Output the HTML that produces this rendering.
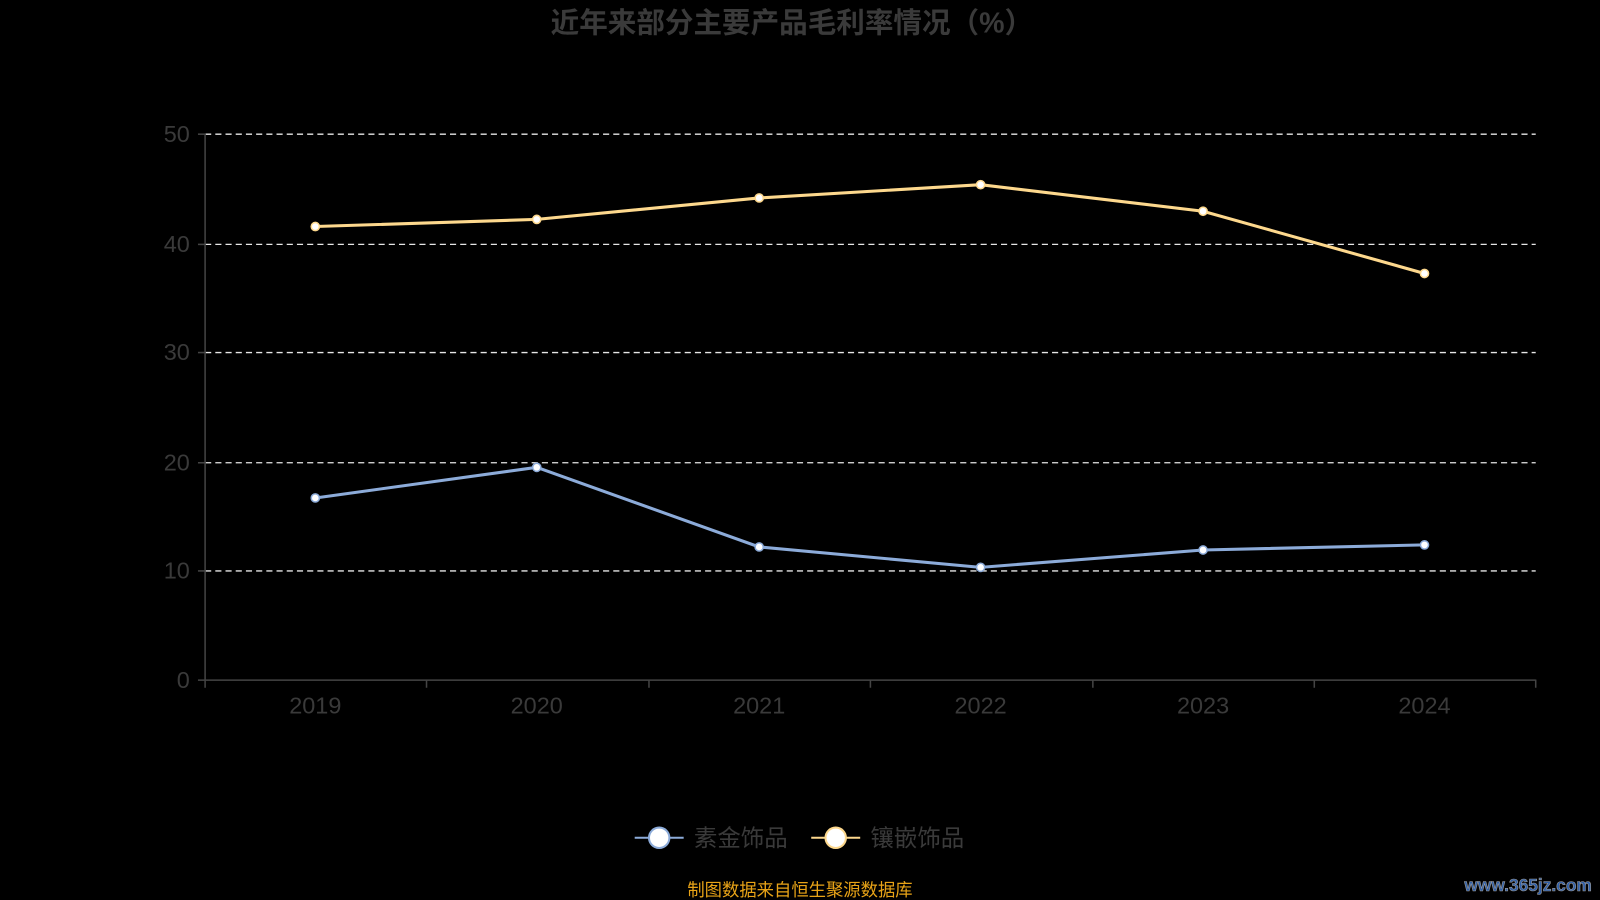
<!DOCTYPE html>
<html><head><meta charset="utf-8"><style>
html,body{margin:0;padding:0;background:#000;width:1600px;height:900px;overflow:hidden}
svg{display:block}
text{font-family:"Liberation Sans","Noto Sans CJK SC",sans-serif}
</style></head><body>
<svg width="1600" height="900" viewBox="0 0 1568 882" preserveAspectRatio="none">
<rect width="1568" height="882" fill="#000"/>
<text x="776" y="32" text-anchor="middle" font-size="28" font-weight="bold" fill="#3a3a3a">近年来部分主要产品毛利率情况（%）</text>
<g stroke="#e6e6e6" stroke-width="1.3" stroke-dasharray="6,4">
<line x1="201" y1="131.5" x2="1505" y2="131.5"/>
<line x1="201" y1="239.5" x2="1505" y2="239.5"/>
<line x1="201" y1="345.5" x2="1505" y2="345.5"/>
<line x1="201" y1="453.5" x2="1505" y2="453.5"/>
<line x1="201" y1="559.5" x2="1505" y2="559.5"/>
</g>
<g stroke="#444" stroke-width="1.5">
<line x1="201" y1="131" x2="201" y2="667"/>
<line x1="194" y1="666.5" x2="1505" y2="666.5"/>
<line x1="201" y1="666" x2="201" y2="674"/><line x1="418" y1="666" x2="418" y2="674"/>
<line x1="636" y1="666" x2="636" y2="674"/><line x1="853" y1="666" x2="853" y2="674"/>
<line x1="1071" y1="666" x2="1071" y2="674"/><line x1="1288" y1="666" x2="1288" y2="674"/>
<line x1="1505" y1="666" x2="1505" y2="674"/>
<line x1="194" y1="131.5" x2="201" y2="131.5"/><line x1="194" y1="239.5" x2="201" y2="239.5"/>
<line x1="194" y1="345.5" x2="201" y2="345.5"/><line x1="194" y1="453.5" x2="201" y2="453.5"/>
<line x1="194" y1="559.5" x2="201" y2="559.5"/>
</g>
<g fill="#3a3a3a" font-size="23" text-anchor="end">
<text x="186" y="139">50</text><text x="186" y="247">40</text><text x="186" y="353">30</text>
<text x="186" y="461">20</text><text x="186" y="567">10</text><text x="186" y="674">0</text>
</g>
<g fill="#3a3a3a" font-size="23" text-anchor="middle">
<text x="309" y="699">2019</text><text x="526" y="699">2020</text><text x="744" y="699">2021</text>
<text x="961" y="699">2022</text><text x="1179" y="699">2023</text><text x="1396" y="699">2024</text>
</g>
<polyline fill="none" stroke="#fdd88d" stroke-width="3" points="309,222 526,215 744,194 961,181 1179,207 1396,268"/>
<polyline fill="none" stroke="#8cabd9" stroke-width="3" points="309,488 526,458 744,536 961,556 1179,539 1396,534"/>
<g fill="#fff" stroke="#fdd88d" stroke-width="1.5">
<circle cx="309" cy="222" r="4"/><circle cx="526" cy="215" r="4"/><circle cx="744" cy="194" r="4"/>
<circle cx="961" cy="181" r="4"/><circle cx="1179" cy="207" r="4"/><circle cx="1396" cy="268" r="4"/>
</g>
<g fill="#fff" stroke="#8cabd9" stroke-width="1.5">
<circle cx="309" cy="488" r="4"/><circle cx="526" cy="458" r="4"/><circle cx="744" cy="536" r="4"/>
<circle cx="961" cy="556" r="4"/><circle cx="1179" cy="539" r="4"/><circle cx="1396" cy="534" r="4"/>
</g>
<line x1="622" y1="821" x2="670" y2="821" stroke="#8cabd9" stroke-width="2"/>
<circle cx="646" cy="821" r="10" fill="#fff" stroke="#8cabd9" stroke-width="2"/>
<text x="680" y="829" font-size="23" fill="#3a3a3a">素金饰品</text>
<line x1="795" y1="821" x2="843" y2="821" stroke="#fdd88d" stroke-width="2"/>
<circle cx="819" cy="821" r="10" fill="#fff" stroke="#fdd88d" stroke-width="2"/>
<text x="853" y="829" font-size="23" fill="#3a3a3a">镶嵌饰品</text>
<text x="784" y="878" text-anchor="middle" font-size="17" fill="#e8a317">制图数据来自恒生聚源数据库</text>
<text x="1560" y="873" text-anchor="end" font-size="17" font-weight="bold" fill="#2f5fa8" stroke="#999" stroke-width="0.6" font-family="Liberation Serif,serif">www.365jz.com</text>
</svg>
</body></html>
